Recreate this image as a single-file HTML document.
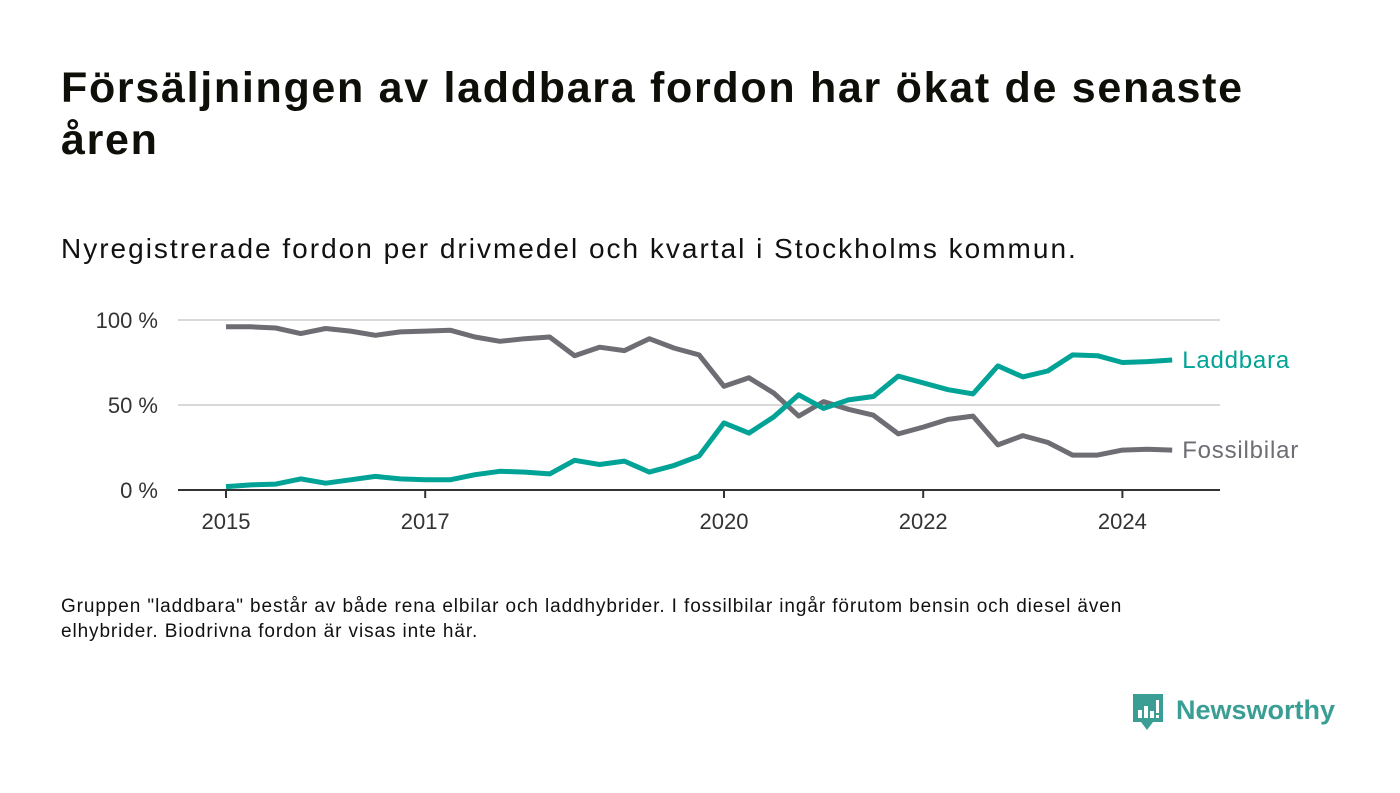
<!DOCTYPE html>
<html><head><meta charset="utf-8">
<style>
body{margin:0;background:#fff;font-family:"Liberation Sans",sans-serif;color:#111;}
#wrap{position:relative;width:1400px;height:793px;overflow:hidden;}
h1{position:absolute;left:61px;top:62px;margin:0;font-size:43px;letter-spacing:1.7px;line-height:52px;font-weight:bold;width:1260px;color:#0f0f0a;}
.sub{position:absolute;left:61px;top:233px;font-size:28px;letter-spacing:2px;color:#111;white-space:nowrap;}
.note{position:absolute;left:61px;top:594px;font-size:19px;letter-spacing:0.9px;line-height:25px;color:#111;width:1150px;}
.logo{position:absolute;left:1131px;top:692px;}
</style></head><body>
<div id="wrap">
<h1>Försäljningen av laddbara fordon har ökat de senaste åren</h1>
<div class="sub">Nyregistrerade fordon per drivmedel och kvartal i Stockholms kommun.</div>
<svg id="chart" width="1400" height="793" style="position:absolute;left:0;top:0"></svg>
<div class="note">Gruppen "laddbara" består av både rena elbilar och laddhybrider. I fossilbilar ingår förutom bensin och diesel även elhybrider. Biodrivna fordon är visas inte här.</div>
<div class="logo">
<svg width="210" height="44">
<path d="M2 2h30v28h-10l-6 8-6-8H2z" fill="#3a9e94"/>
<rect x="7" y="18" width="4" height="8" fill="#fff"/><rect x="13" y="14" width="4" height="12" fill="#fff"/><rect x="19" y="19" width="4" height="7" fill="#fff"/><rect x="25" y="8" width="3" height="13" fill="#fff"/><rect x="25" y="23" width="3" height="3" fill="#fff"/>
<text x="45" y="27" font-family="Liberation Sans, sans-serif" font-size="27" font-weight="bold" fill="#3a9e94">Newsworthy</text>
</svg></div>
</div>
<script>
const laddbara=[2,3,3.5,6.5,4,6,8,6.5,6,6,9,11,10.5,9.5,17.5,15,17,10.5,14.5,20,39.5,33.5,43,56,48,53,55,67,63,59,56.5,73,66.5,70,79.5,79,75,75.5,76.5];
const fossil=[96,96,95.3,92,95,93.5,91,93,93.5,94,90,87.5,89,90,79,84,82,89,83.5,79.5,61,66,57,43.5,52,47.5,44,33,37,41.5,43.5,26.5,32,28,20.5,20.5,23.5,24,23.5];
const yTicks=[0,50,100];
const xTicks=[2015,2017,2020,2022,2024];
const startYear=2015;
const svg=document.getElementById('chart');
const NS='http://www.w3.org/2000/svg';
const xS=t=>226+(t-2015)*99.6;
const yS=v=>490-v*1.7;
function mk(tag,attrs){const e=document.createElementNS(NS,tag);for(const k in attrs)e.setAttribute(k,attrs[k]);svg.appendChild(e);return e;}
yTicks.forEach(v=>{
 if(v>0){const g=mk('line',{x1:178,x2:1220,y1:yS(v),y2:yS(v),stroke:'#d9d9d9','stroke-width':2});
 
 }
 const t=mk('text',{x:158,y:yS(v)+8,'text-anchor':'end','font-size':22,fill:'#333','font-family':'Liberation Sans, sans-serif'});
 t.textContent=v+' %';
 
 
});
const ax=mk('line',{x1:178,x2:1220,y1:490,y2:490,stroke:'#333','stroke-width':2});


xTicks.forEach(y=>{
 const l=mk('line',{x1:xS(y),x2:xS(y),y1:490,y2:498,stroke:'#333','stroke-width':2});
 
 
 const t=mk('text',{x:xS(y),y:529,'text-anchor':'middle','font-size':22,fill:'#333','font-family':'Liberation Sans, sans-serif'});
 t.textContent=y;
 
 
});
function line(data,color,name,label){
 const d=data.map((v,i)=>(i?'L':'M')+xS(startYear+i/4).toFixed(1)+' '+yS(v).toFixed(1)).join(' ');
 const p=mk('path',{d:d,fill:'none',stroke:color,'stroke-width':5,'stroke-linejoin':'round'});
 
 
 const last=data[data.length-1];
 const t=mk('text',{x:xS(startYear+(data.length-1)/4)+10,y:yS(last)+8,'font-size':24,'letter-spacing':0.8,fill:color,'font-family':'Liberation Sans, sans-serif'});
 t.textContent=label;
 
 
}
line(fossil,'#6e6d73','fossil','Fossilbilar');
line(laddbara,'#00a396','laddbara','Laddbara');
</script>
</body></html>
